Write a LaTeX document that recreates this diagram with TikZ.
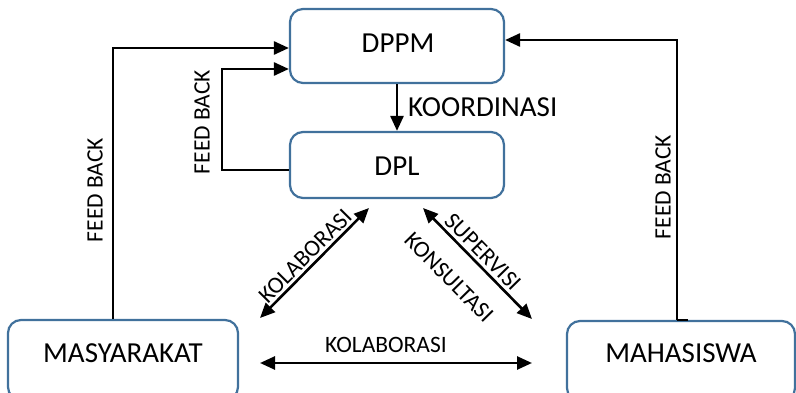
\documentclass[tikz,border=0pt]{standalone}
\usepackage{fontspec}
\setmainfont{Carlito}
\usetikzlibrary{arrows.meta}
\definecolor{boxblue}{RGB}{65,113,156}
\tikzset{
  box/.style={draw=boxblue, line width=2.2pt, rounded corners=13pt, fill=white, inner sep=0pt},
  big/.style={font=\fontsize{29}{34}\selectfont, inner sep=0pt},
  small/.style={font=\fontsize{23.5}{28}\selectfont, inner sep=0pt},
  arr/.style={line width=2.6pt, -{Triangle[length=15pt,width=13pt]}},
  dblarr/.style={line width=2.6pt, {Triangle[length=15pt,width=13pt]}-{Triangle[length=15pt,width=13pt]}}
}
\begin{document}
\begin{tikzpicture}[x=1pt,y=-1pt]
\useasboundingbox (0,0) rectangle (796,393);
\begin{scope}
\clip (0,0) rectangle (796,393);
% boxes
\node[box, minimum width=214pt, minimum height=74pt] (dppm) at (397,46) {};
\node[box, minimum width=214pt, minimum height=66pt] (dpl) at (397,165) {};
\node[box, minimum width=230pt, minimum height=80pt] (mas) at (123,360) {};
\node[box, minimum width=228pt, minimum height=80pt] (mah) at (681,361) {};
\end{scope}
% box captions
\node[big] (tdppm) at (398,43) {DPPM};
\node[big] (tdpl) at (397,166) {DPL};
\node[big] (tmas) at (123,353) {MASYARAKAT};
\node[big] (tmah) at (681,353) {MAHASISWA};

% feedback lines
\coordinate (fbL) at (113,48);
\coordinate (fbM) at (222,69);
\coordinate (fbR) at (677,40);
\draw[arr] (mas.north -| fbL) |- (dppm.west |- fbL);
\draw[arr] ([yshift=-5pt]dpl.west) -| (fbM) -- (dppm.west |- fbM);
\draw[arr] (mah.north -| fbR) |- (dppm.east |- fbR);
\draw[line width=2.6pt] (mah.north -| fbR) -- ++(11,0);

% coordination
\draw[arr] (dppm.south) -- (dpl.north);
\node[big, anchor=west] (lkoord) at (408,107) {KOORDINASI};

% two-way links
\coordinate (kA) at (260,318);
\coordinate (kB) at (369,208);
\coordinate (sA) at (423,208);
\coordinate (sB) at (532,319);
\coordinate (hA) at (260,363);
\coordinate (hB) at (532,363);
\draw[dblarr] (kA) -- (kB)
  node[small, sloped, pos=0.49, above=2.5pt] (lkol) {KOLABORASI};
\draw[dblarr] (sA) -- (sB)
  node[small, sloped, pos=0.47, above=3pt] (lsup) {SUPERVISI}
  node[small, sloped, pos=0.435, below=21pt] (lkon) {KONSULTASI};
\draw[dblarr] (hA) -- (hB);

% labels
\node[small, rotate=90] (lfbL) at (95,190) {FEED BACK};
\node[small, rotate=90] (lfbR) at (663,187) {FEED BACK};
\node[small, rotate=90] (lfbM) at (202,122) {FEED BACK};
\node[small] (lkolb) at (386,345) {KOLABORASI};
\end{tikzpicture}
\end{document}
